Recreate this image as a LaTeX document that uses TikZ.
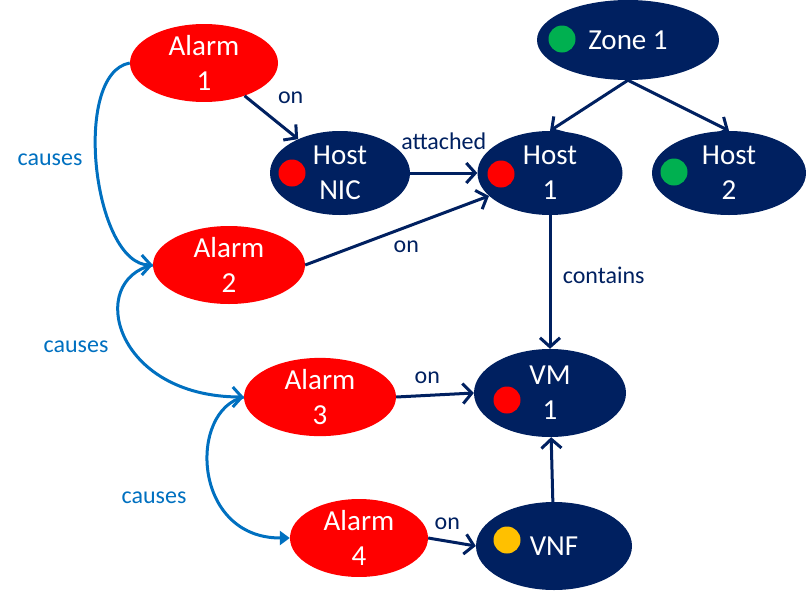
\documentclass[tikz,border=0pt]{standalone}
\usepackage{fontspec}
\setmainfont{Carlito}
\usetikzlibrary{shapes.geometric,arrows.meta}
\definecolor{navy}{HTML}{002060}
\definecolor{alarmred}{HTML}{FF0000}
\definecolor{okgreen}{HTML}{00B050}
\definecolor{warnyellow}{HTML}{FFC000}
\definecolor{causeblue}{HTML}{0070C0}
\begin{document}
\begin{tikzpicture}[
    x=1pt, y=-1pt,
    alarm/.style={ellipse, fill=alarmred, text=white, inner sep=0pt, align=center, font=\fontsize{29}{35}\selectfont},
    res/.style={ellipse, fill=navy, text=white, inner sep=0pt, align=center, font=\fontsize{29}{35}\selectfont},
    dot/.style={circle, inner sep=0pt, minimum size=27pt},
    rel/.style={-{Straight Barb[length=9pt,width=20pt]}, line width=3pt, draw=navy},
    cause/.style={-{Straight Barb[length=9pt,width=20pt]}, line width=3pt, draw=causeblue},
    lbl/.style={text=navy, font=\fontsize{24}{28}\selectfont},
    clbl/.style={text=causeblue, font=\fontsize{24}{28}\selectfont}
]
\useasboundingbox (0,0) rectangle (806,592);

% Alarms
\node[alarm, minimum width=148pt, minimum height=74pt] (alarm1) at (204,63) {Alarm\\1};
\node[alarm, minimum width=152pt, minimum height=78pt] (alarm2) at (229,265) {Alarm\\2};
\node[alarm, minimum width=152pt, minimum height=72pt] (alarm3) at (320,397) {Alarm\\3};
\node[alarm, minimum width=138pt, minimum height=62pt] (alarm4) at (359,538) {Alarm\\4};

% Resources
\node[res, minimum width=182pt, minimum height=80pt] (zone1) at (628,40) {Zone 1};
\node[res, minimum width=140pt, minimum height=84pt] (hostnic) at (340,173) {Host\\NIC};
\node[res, minimum width=145pt, minimum height=84pt] (host1) at (550,173) {Host\\1};
\node[res, minimum width=154pt, minimum height=84pt] (host2) at (729,173) {Host\\2};
\node[res, minimum width=152pt, minimum height=88pt] (vm1) at (550,393) {VM\\1};
\node[res, minimum width=156pt, minimum height=88pt] (vnf) at (554,546) {VNF};

% Status dots
\node[dot, fill=okgreen] (zonedot) at (562,39) {};
\node[dot, fill=alarmred] (nicdot) at (292,173) {};
\node[dot, fill=alarmred] (host1dot) at (501,174) {};
\node[dot, fill=okgreen] (host2dot) at (674,172) {};
\node[dot, fill=alarmred] (vmdot) at (507,400) {};
\node[dot, fill=warnyellow] (vnfdot) at (507,540) {};

% Relations
\draw[rel] (alarm1) -- (hostnic) node[lbl, pos=0.05, right=26pt] {on};
\draw[rel] (hostnic.east) -- (host1.west) node[lbl, pos=0.5, above=18pt] {attached};
\draw[rel] (alarm2.east) -- (host1) node[lbl, pos=0.55, below=9pt] {on};
\draw[rel] (zone1.south) -- (host1.north);
\draw[rel] (zone1.south) -- (host2.north);
\draw[rel] (host1) -- (vm1) node[lbl, pos=0.45, right=8pt] {contains};
\draw[rel] (alarm3.east) -- (vm1.west) node[lbl, pos=0.4, above=7pt] {on};
\draw[rel] (alarm4.east) -- (vnf.west) node[lbl, pos=0.4, above=7pt] {on};
\draw[rel] (vnf) -- (vm1);

% Causality
\draw[cause] (alarm1.west) to[out=190, in=180, looseness=0.75] (alarm2.west);
\draw[cause] (alarm2.west) .. controls (86,280) and (114,397) .. (alarm3.west);
\draw[cause, -{Triangle[length=10pt,width=14pt]}] (alarm3.west) .. controls (188,410) and (192,538) .. (alarm4.west);
\node[clbl] (causes1) at (50,160) {causes};
\node[clbl] (causes2) at (76,347) {causes};
\node[clbl] (causes3) at (154,498) {causes};

\end{tikzpicture}
\end{document}
